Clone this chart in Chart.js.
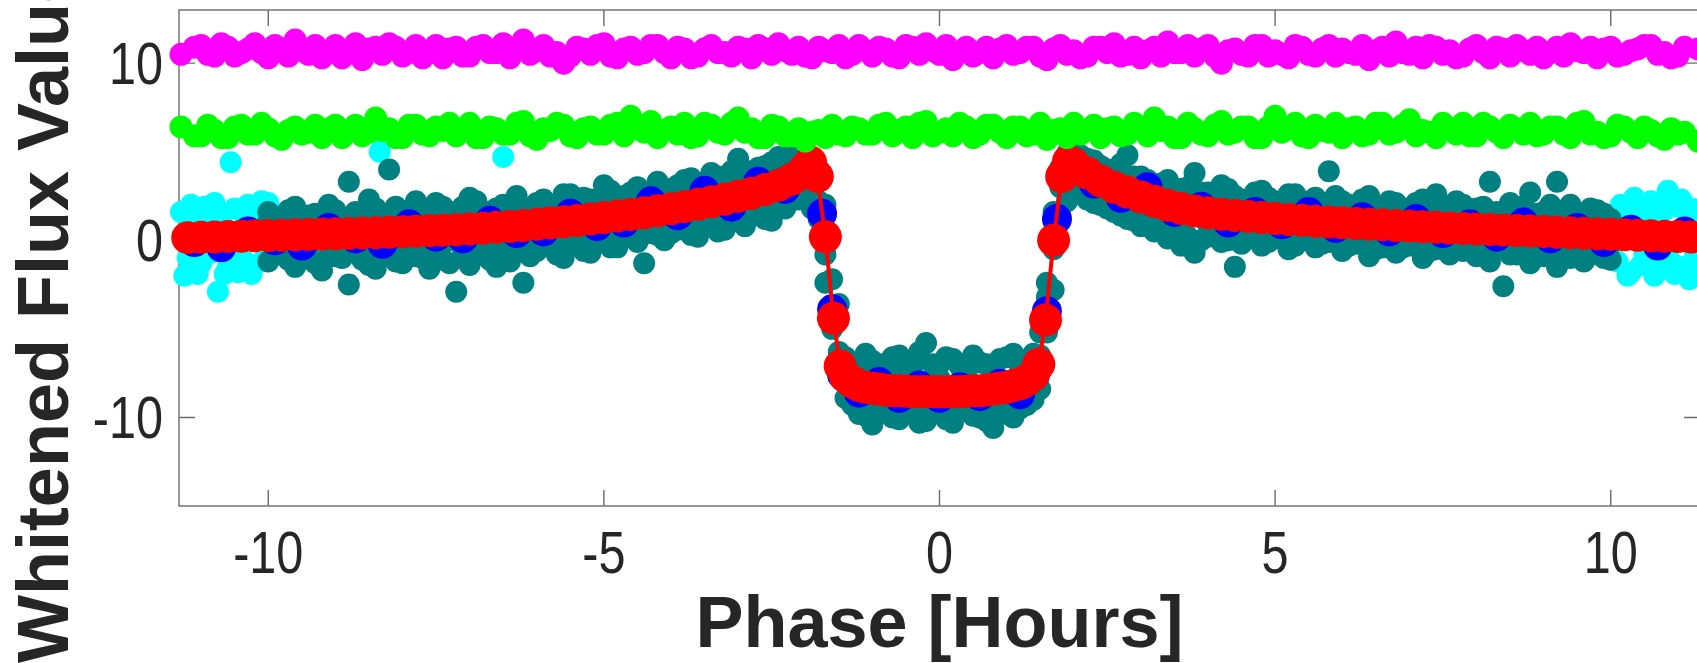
<!DOCTYPE html>
<html><head><meta charset="utf-8">
<script src="https://cdn.jsdelivr.net/npm/chart.js@4.4.0/dist/chart.umd.min.js"></script>
<style>
html,body{margin:0;padding:0;overflow:hidden;background:#fff;width:1697px;height:663px}
#wrap{position:absolute;left:0;top:0;width:1706px;height:663px}
</style></head><body><div id="wrap"><canvas id="c"></canvas></div>
<script>
const xTicks = [-10, -5, 0, 5, 10];
const xTickLabels = ['-10', '-5', '0', '5', '10'];
const yTicks = [-10, 0, 10];
const yTickLabels = ['-10', '0', '10'];
const xLabel = 'Phase [Hours]';
const yLabel = 'Whitened Flux Value';

const phaseGrid = [
 -11.3,-11.0,-10.8,-10.6,-10.4,-10.2,-10.0,-9.8,-9.6,-9.4,
 -9.2,-9.0,-8.8,-8.6,-8.4,-8.2,-8.0,-7.8,-7.6,-7.4,
 -7.2,-7.0,-6.8,-6.6,-6.4,-6.2,-6.0,-5.8,-5.6,-5.4,
 -5.2,-5.0,-4.8,-4.6,-4.4,-4.2,-4.0,-3.8,-3.6,-3.4,
 -3.2,-3.0,-2.8,-2.6,-2.4,-2.2,-2.0,-1.8,-1.6,-1.4,
 -1.2,-1.0,-0.8,-0.6,-0.4,-0.2,0.0,0.2,0.4,0.6,
 0.8,1.0,1.2,1.4,1.6,1.8,2.0,2.2,2.4,2.6,
 2.8,3.0,3.2,3.4,3.6,3.8,4.0,4.2,4.4,4.6,
 4.8,5.0,5.2,5.4,5.6,5.8,6.0,6.2,6.4,6.6,
 6.8,7.0,7.2,7.4,7.6,7.8,8.0,8.2,8.4,8.6,
 8.8,9.0,9.2,9.4,9.6,9.8,10.0,10.2,10.4,10.6,
 10.8,11.0,11.3];

const phaseGridB = [
 -11.1,-10.9,-10.7,-10.5,-10.3,-10.1,-9.9,-9.7,-9.5,-9.3,
 -9.1,-8.9,-8.7,-8.5,-8.3,-8.1,-7.9,-7.7,-7.5,-7.3,
 -7.1,-6.9,-6.7,-6.5,-6.3,-6.1,-5.9,-5.7,-5.5,-5.3,
 -5.1,-4.9,-4.7,-4.5,-4.3,-4.1,-3.9,-3.7,-3.5,-3.3,
 -3.1,-2.9,-2.7,-2.5,-2.3,-2.1,-1.9,-1.7,-1.5,-1.3,
 -1.1,-0.9,-0.7,-0.5,-0.3,-0.1,0.1,0.3,0.5,0.7,
 0.9,1.1,1.3,1.5,1.7,1.9,2.1,2.3,2.5,2.7,
 2.9,3.1,3.3,3.5,3.7,3.9,4.1,4.3,4.5,4.7,
 4.9,5.1,5.3,5.5,5.7,5.9,6.1,6.3,6.5,6.7,
 6.9,7.1,7.3,7.5,7.7,7.9,8.1,8.3,8.5,8.7,
 8.9,9.1,9.3,9.5,9.7,9.9,10.1,10.3,10.5,10.7,
 10.9,11.1];

const magentaFlux = [
 10.5,11.0,10.4,10.9,10.6,11.1,10.3,10.8,11.3,10.5,
 10.3,11.0,10.7,10.2,10.9,11.1,10.4,11.0,10.6,10.3,
 10.9,10.4,11.0,10.6,10.3,11.3,10.7,10.4,10.0,10.9,
 10.5,11.1,10.3,10.9,10.6,11.0,10.3,10.8,10.4,11.0,
 10.6,10.9,10.3,10.8,11.1,10.5,10.4,10.9,10.6,10.3,
 11.0,10.4,10.8,10.3,10.9,11.1,10.5,10.2,10.9,10.6,
 10.3,11.0,10.6,10.9,10.2,11.0,10.7,10.4,10.9,11.1,
 10.5,10.3,10.9,11.2,10.6,10.4,11.0,10.0,10.8,10.4,
 11.0,10.7,10.3,10.9,10.4,11.0,10.8,10.5,10.2,10.9,
 11.2,10.5,10.3,10.9,10.7,10.4,11.0,10.3,10.8,11.0,
 10.5,10.3,10.9,11.1,10.6,10.3,10.9,10.5,10.8,11.0,
 10.6,10.4,10.8];
const magentaFlux2 = [
 10.9,10.5,11.1,10.4,10.8,10.6,11.0,10.4,10.7,11.0,
 10.6,10.3,11.1,10.8,10.5,10.9,10.6,10.3,11.0,10.8,
 10.4,10.9,10.6,11.1,10.8,10.5,11.0,10.6,10.4,10.8,
 11.0,10.4,10.8,10.5,11.0,10.6,10.9,10.3,10.8,10.6,
 10.4,10.8,11.0,10.5,10.7,10.9,10.3,10.7,11.0,10.5,
 10.7,10.9,10.4,11.0,10.5,10.7,11.0,10.6,10.4,10.9,
 10.8,10.5,10.9,10.4,10.8,10.5,10.3,10.9,10.6,10.4,
 10.9,10.7,10.4,10.6,11.0,10.8,10.4,10.7,10.5,11.0,
 10.4,10.5,11.0,10.5,10.8,10.4,10.6,11.0,10.7,10.4,
 10.6,10.9,11.0,10.5,10.3,10.8,10.6,10.9,10.4,10.7,
 10.9,10.6,10.4,10.7,10.9,10.8,10.4,10.7,11.0,10.5,
 10.3,10.9];

const greenFlux = [
 6.4,5.9,6.2,5.8,6.5,6.0,6.3,5.7,6.4,6.1,
 5.8,6.5,6.2,5.9,6.9,6.3,5.8,6.5,5.9,6.2,
 5.9,6.6,5.8,6.3,6.0,6.7,5.7,6.2,6.5,5.8,
 6.4,6.0,6.6,7.0,6.1,5.8,6.4,6.6,5.9,6.5,
 6.0,6.9,6.3,5.8,6.4,5.9,5.6,6.2,6.5,5.9,
 6.3,6.0,6.6,6.2,5.8,6.7,6.1,5.9,6.4,6.0,
 6.5,5.8,6.4,6.0,5.7,6.3,6.6,6.2,5.8,6.4,
 6.0,6.3,6.9,6.4,5.8,6.3,5.9,6.7,6.1,6.4,
 5.8,7.0,6.3,5.9,6.5,6.1,5.8,6.4,6.0,6.6,
 6.1,6.8,6.2,5.8,6.3,6.6,5.9,6.4,5.8,6.3,
 6.6,6.0,6.4,5.8,6.7,6.1,5.9,6.4,5.8,6.2,
 5.7,6.0,5.6];
const greenFlux2 = [
 5.9,6.5,5.8,6.4,6.0,6.6,5.9,6.2,6.0,6.5,
 6.3,5.8,6.5,6.1,6.2,5.8,6.5,6.0,6.4,6.6,
 6.2,5.8,6.4,6.0,6.6,5.9,6.3,6.6,5.9,6.3,
 6.0,6.5,5.9,6.3,6.7,6.2,6.0,5.8,6.6,6.1,
 6.6,6.1,5.8,6.5,5.9,6.3,6.1,5.8,6.0,6.4,
 6.0,6.5,5.9,6.4,6.6,5.9,6.3,6.6,5.8,6.5,
 6.1,6.4,5.9,6.6,6.2,5.8,6.0,6.5,6.3,5.9,
 6.6,5.9,6.2,5.8,6.6,6.0,6.5,6.0,6.4,5.8,
 6.4,6.1,6.6,5.8,6.2,6.6,6.3,5.9,6.6,6.0,
 6.5,5.9,6.1,6.6,6.0,5.9,6.6,6.1,6.5,6.0,
 5.9,6.4,6.0,6.6,6.0,5.8,6.5,6.1,6.4,5.9,
 6.3,6.1];

const tealPhaseA = [
 -10.0,-9.8,-9.6,-9.4,-9.2,-9.0,-8.8,-8.6,-8.4,-8.2,
 -8.0,-7.8,-7.6,-7.4,-7.2,-7.0,-6.8,-6.6,-6.4,-6.2,
 -6.0,-5.8,-5.6,-5.4,-5.2,-5.0,-4.8,-4.6,-4.4,-4.2,
 -4.0,-3.8,-3.6,-3.4,-3.2,-3.0,-2.8,-2.6,-2.4,-2.2,
 -2.0,-1.8,-1.6,-1.4,-1.2,-1.0,-0.8,-0.6,-0.4,-0.2,
 0.0,0.2,0.4,0.6,0.8,1.0,1.2,1.4,1.6,1.8,
 2.0,2.2,2.4,2.6,2.8,3.0,3.2,3.4,3.6,3.8,
 4.0,4.2,4.4,4.6,4.8,5.0,5.2,5.4,5.6,5.8,
 6.0,6.2,6.4,6.6,6.8,7.0,7.2,7.4,7.6,7.8,
 8.0,8.2,8.4,8.6,8.8,9.0,9.2,9.4,9.6,9.8,
 10.0];

const tealHi = [
 1.6,1.2,1.9,1.4,1.1,1.7,3.3,1.3,1.8,4.0,
 1.5,2.2,1.4,1.9,1.6,2.4,1.3,1.8,2.0,1.5,
 2.1,1.7,2.6,2.0,2.3,3.1,2.2,2.7,2.4,3.3,
 2.9,3.4,3.1,3.8,3.3,4.6,3.9,4.2,4.7,4.9,
 4.8,4.0,-2.2,-6.6,-7.2,-6.8,-7.3,-6.5,-7.1,-5.8,
 -7.0,-6.7,-7.3,-6.9,-7.2,-6.6,-7.1,-6.4,-2.4,4.1,
 4.9,4.6,4.2,3.9,4.8,3.6,3.1,3.4,2.9,3.8,
 2.7,3.1,2.5,2.3,2.8,2.2,2.6,2.0,2.4,3.9,
 2.2,1.8,2.5,1.9,2.1,1.7,2.3,2.6,1.6,2.0,
 1.8,3.3,1.5,1.9,2.7,1.6,3.3,2.0,1.3,1.7,
 1.2];

const tealMid2 = [
 1.0,-0.5,1.2,-0.4,0.9,-0.7,1.1,-0.3,1.3,-0.5,
 1.2,-0.4,1.4,-0.2,1.3,-0.3,1.5,-0.1,1.6,0.0,
 1.8,0.1,1.9,0.3,2.1,0.4,2.2,0.6,2.4,0.8,
 2.7,0.9,2.9,1.3,3.2,1.6,3.6,2.0,4.0,2.6,
 3.2,2.2,-4.2,-7.4,-8.4,-9.2,-7.6,-9.3,-7.7,-9.1,
 -7.8,-9.2,-7.6,-9.3,-7.9,-9.0,-7.5,-8.2,-3.2,3.0,
 3.6,4.0,2.6,3.5,2.1,3.2,1.5,2.6,1.2,2.4,
 0.9,2.3,0.7,2.1,0.5,2.0,0.4,1.9,0.3,1.8,
 0.2,1.7,0.1,1.6,0.0,1.5,-0.1,1.4,-0.2,1.3,
 -0.3,1.3,-0.4,1.2,-0.4,1.1,-0.5,1.0,-0.6,0.9,
 -0.2];

const tealLo = [
 -1.2,-0.8,-1.5,-1.0,-1.7,-0.9,-2.5,-1.1,-1.6,-0.7,
 -1.3,-0.9,-1.6,-1.1,-2.9,-1.4,-0.8,-1.5,-1.2,-2.4,
 -0.6,-0.3,-1.0,-0.2,-0.7,0.0,-0.4,0.2,-1.3,0.3,
 0.4,0.7,0.2,1.0,0.6,1.3,1.7,1.2,2.0,2.4,
 2.6,1.2,-5.0,-8.9,-9.8,-10.4,-9.6,-10.1,-9.5,-10.2,
 -9.7,-10.3,-9.4,-10.0,-10.6,-9.8,-9.5,-9.0,-5.2,1.4,
 2.8,2.3,2.0,1.6,1.2,0.8,0.5,0.1,-0.3,-0.7,
 0.2,-0.1,-1.5,0.3,-0.3,0.1,-0.5,0.2,-0.4,-0.1,
 -0.6,-0.2,-0.9,-0.4,-0.7,-0.3,-1.0,-0.5,-0.8,-0.6,
 -0.9,-1.2,-2.6,-0.8,-1.3,-0.9,-1.5,-1.0,-1.2,-0.8,
 -1.1];

const tealPhaseB = [
 -9.9,-9.7,-9.5,-9.3,-9.1,-8.9,-8.7,-8.5,-8.3,-8.1,
 -7.9,-7.7,-7.5,-7.3,-7.1,-6.9,-6.7,-6.5,-6.3,-6.1,
 -5.9,-5.7,-5.5,-5.3,-5.1,-4.9,-4.7,-4.5,-4.3,-4.1,
 -3.9,-3.7,-3.5,-3.3,-3.1,-2.9,-2.7,-2.5,-2.3,-2.1,
 -1.9,-1.7,-1.5,-1.3,-1.1,-0.9,-0.7,-0.5,-0.3,-0.1,
 0.1,0.3,0.5,0.7,0.9,1.1,1.3,1.5,1.7,1.9,
 2.1,2.3,2.5,2.7,2.9,3.1,3.3,3.5,3.7,3.9,
 4.1,4.3,4.5,4.7,4.9,5.1,5.3,5.5,5.7,5.9,
 6.1,6.3,6.5,6.7,6.9,7.1,7.3,7.5,7.7,7.9,
 8.1,8.3,8.5,8.7,8.9,9.1,9.3,9.5,9.7,9.9];

const tealMid = [
 0.6,-0.2,0.9,0.1,0.5,-0.3,1.0,0.2,0.7,-0.1,
 1.1,0.3,0.8,0.0,1.2,0.4,0.9,0.2,1.3,0.6,
 1.4,0.5,1.7,0.8,1.5,1.0,1.9,1.1,2.0,1.3,
 2.4,1.5,2.6,1.9,3.2,2.3,3.5,2.7,3.9,3.7,
 3.4,-0.8,-6.3,-8.0,-8.9,-8.1,-9.0,-7.9,-8.8,-8.2,
 -8.9,-8.0,-9.1,-8.3,-8.7,-7.9,-8.8,-6.5,-0.5,3.6,
 4.4,3.3,3.6,2.5,2.9,2.0,2.4,1.6,2.0,1.3,
 1.9,1.1,1.7,0.9,1.6,0.7,1.4,0.8,1.3,0.6,
 1.4,0.4,1.1,0.5,1.2,0.2,1.0,0.3,0.9,0.1,
 0.9,-0.1,1.0,0.2,0.7,-0.2,0.8,0.0,0.6,-0.3];

const tealHi2 = [
 1.3,1.7,1.0,1.5,2.0,1.2,1.6,2.3,1.4,1.9,
 1.7,1.3,2.1,1.5,1.9,2.2,1.6,2.0,2.5,1.8,
 2.3,2.0,2.6,2.4,2.1,2.8,2.5,3.0,2.6,2.9,
 3.1,3.5,3.0,3.6,3.9,3.5,4.1,4.4,4.0,4.6,
 4.7,2.0,-3.6,-6.9,-6.4,-7.0,-6.6,-7.2,-6.3,-7.0,
 -6.6,-7.1,-6.5,-7.0,-6.7,-6.4,-6.9,-5.2,1.6,4.9,
 4.8,4.5,4.0,4.3,3.6,3.4,3.2,2.8,3.0,2.7,
 2.5,2.9,2.3,2.7,2.4,2.1,2.6,2.2,2.0,2.5,
 2.0,2.3,1.9,2.2,1.8,2.1,1.7,2.0,2.2,1.6,
 1.9,1.6,2.1,1.8,1.5,2.0,1.7,1.4,1.8,1.5];

const tealLo2 = [
 -0.7,-1.1,-0.5,-1.3,-0.9,-1.0,-0.6,-1.4,-0.8,-1.2,
 -0.7,-1.0,-0.6,-1.3,-0.8,-0.5,-1.1,-0.7,-0.4,-0.9,
 -0.3,-0.8,-0.2,-0.6,0.1,-0.4,0.2,-0.1,0.4,0.0,
 0.6,0.3,0.9,0.5,1.2,0.8,1.4,1.1,1.8,2.3,
 1.8,-2.4,-7.7,-9.3,-9.9,-9.4,-10.0,-9.6,-10.3,-9.5,
 -10.1,-9.6,-9.9,-10.2,-9.5,-10.0,-9.3,-8.4,-2.8,2.2,
 2.6,2.1,1.8,1.4,1.1,0.9,0.6,0.4,0.2,0.0,
 0.3,0.0,-0.2,0.4,-0.1,0.2,-0.3,0.0,-0.2,0.1,
 -0.3,0.0,-0.5,-0.1,-0.4,-0.2,-0.6,-0.3,-0.5,-0.2,
 -0.6,-0.4,-0.8,-0.5,-0.9,-0.7,-0.6,-0.9,-0.8,-1.0];

const cyanPhase = [
 -11.3,-11.2,-11.1,-11.05,-10.95,-10.85,-10.75,-10.7,-10.6,-10.5,
 -10.4,-10.3,-10.2,-10.1,-10.05,-10.56,-8.34,-6.5,10.1,10.2,
 10.3,10.4,10.5,10.6,10.7,10.85,10.9,11.0,11.1,11.17,
 11.3,11.25,-11.25,-11.15,-11.0,-10.9,-10.8,-10.65,-10.45,-10.35,
 -10.25,-10.15,-10.0,10.15,10.25,10.35,10.45,10.55,10.65,10.8,
 10.95,11.05,11.2,11.28];
const cyanFlux = [
 1.6,-1.0,0.9,-1.9,1.9,-0.7,-2.9,1.2,-1.5,1.8,
 -0.9,2.0,-1.4,2.2,-1.0,4.4,5.0,4.7,-1.2,1.3,
 -1.8,1.6,-0.8,2.2,-1.6,2.8,-1.2,1.9,-1.5,-2.2,
 1.2,-0.6,-2.0,2.0,-1.3,1.5,2.1,-1.9,-1.8,1.4,
 -1.9,1.7,2.1,2.0,-2.0,2.4,-1.4,1.1,-2.0,1.7,
 -1.9,2.3,1.8,-1.6];

const binPhase = [
 -11.1,-10.7,-10.3,-9.9,-9.5,-9.1,-8.7,-8.3,-7.9,-7.5,
 -7.1,-6.7,-6.3,-5.9,-5.5,-5.1,-4.7,-4.3,-3.9,-3.5,
 -3.1,-2.7,-2.3,-1.95,-1.75,-1.6,-1.45,-1.2,-0.9,-0.6,
 -0.3,0.0,0.3,0.6,0.9,1.2,1.45,1.6,1.75,1.95,
 2.3,2.7,3.1,3.5,3.9,4.3,4.7,5.1,5.5,5.9,
 6.3,6.7,7.1,7.5,7.9,8.3,8.7,9.1,9.5,9.9,
 10.3,10.7,11.1];
const binFlux = [
 -0.1,-0.4,0.5,0.0,-0.3,0.7,0.1,-0.2,0.9,0.2,
 0.1,1.1,0.4,0.5,1.5,0.8,1.0,2.2,1.4,2.8,
 1.9,3.3,2.9,3.9,1.5,-3.9,-7.6,-8.6,-8.0,-8.9,
 -8.2,-8.9,-8.3,-8.8,-8.1,-8.7,-7.3,-4.0,1.2,4.2,
 3.2,2.4,3.0,1.6,1.9,1.0,1.6,0.9,1.6,0.7,
 1.3,0.5,1.2,0.4,0.9,0.2,1.0,0.1,0.7,-0.1,
 0.6,-0.3,0.5];

const modelPhase = [
 -11.2,-11.0,-10.8,-10.6,-10.4,-10.2,-10.0,-9.8,-9.6,-9.4,
 -9.2,-9.0,-8.8,-8.6,-8.4,-8.2,-8.0,-7.8,-7.6,-7.4,
 -7.2,-7.0,-6.8,-6.6,-6.4,-6.2,-6.0,-5.8,-5.6,-5.4,
 -5.2,-5.0,-4.8,-4.6,-4.4,-4.2,-4.0,-3.8,-3.6,-3.4,
 -3.2,-3.0,-2.8,-2.6,-2.4,-2.2,-2.0,
 -1.92,-1.82,-1.70,-1.58,-1.48,
 -1.4,-1.3,-1.2,-1.1,-1.0,-0.9,-0.8,-0.7,-0.6,-0.5,
 -0.4,-0.3,-0.2,-0.1,0.0,0.1,0.2,0.3,0.4,0.5,
 0.6,0.7,0.8,0.9,1.0,1.1,1.2,1.3,1.4,
 1.48,1.58,1.70,1.82,1.92,
 2.0,2.2,2.4,2.6,2.8,3.0,3.2,3.4,3.6,3.8,
 4.0,4.2,4.4,4.6,4.8,5.0,5.2,5.4,5.6,5.8,
 6.0,6.2,6.4,6.6,6.8,7.0,7.2,7.4,7.6,7.8,
 8.0,8.2,8.4,8.6,8.8,9.0,9.2,9.4,9.6,9.8,
 10.0,10.2,10.4,10.6,10.8,11.0,11.2];
const modelFlux = [
 0.15,0.17,0.19,0.21,0.23,0.25,0.27,0.29,0.31,0.33,
 0.35,0.37,0.39,0.41,0.43,0.45,0.48,0.51,0.54,0.56,
 0.60,0.64,0.68,0.73,0.78,0.84,0.90,0.97,1.04,1.12,
 1.20,1.28,1.37,1.46,1.56,1.67,1.78,1.90,2.03,2.17,
 2.32,2.48,2.66,2.86,3.10,3.45,4.05,
 4.4,3.6,0.2,-4.4,-7.1,
 -7.7,-8.0,-8.2,-8.3,-8.35,-8.4,-8.45,-8.5,-8.5,-8.52,
 -8.55,-8.55,-8.55,-8.55,-8.55,-8.55,-8.55,-8.55,-8.52,-8.5,
 -8.5,-8.45,-8.4,-8.35,-8.3,-8.2,-8.1,-7.9,-7.6,
 -7.0,-4.5,0.0,3.6,4.45,
 4.3,3.8,3.35,3.0,2.72,2.45,2.2,1.98,1.8,1.65,
 1.55,1.47,1.40,1.34,1.28,1.23,1.18,1.13,1.08,1.03,
 0.99,0.95,0.91,0.87,0.83,0.80,0.76,0.73,0.70,0.67,
 0.64,0.61,0.58,0.55,0.52,0.49,0.46,0.43,0.40,0.37,
 0.34,0.31,0.28,0.26,0.23,0.21,0.18];

function pts(xs, ys) { return xs.map((x, i) => ({x: x, y: ys[i]})); }

function scatterSet(label, xs, ys, color, r) {
  return {label: label, data: pts(xs, ys), pointRadius: r, pointHoverRadius: r,
    pointBackgroundColor: color, pointBorderColor: color, pointBorderWidth: 0,
    showLine: false, clip: false};
}

const axisColor = '#6b6b6b';
const textColor = '#262626';
const tickFontCss = "60px 'Liberation Sans', Arial, Helvetica, sans-serif";
const narrow = 0.81;

const framePlugin = {
  id: 'frame',
  beforeDatasetsDraw(chart) {
    const {ctx, chartArea: a, scales: {x, y}} = chart;
    ctx.save();
    ctx.strokeStyle = axisColor; ctx.lineWidth = 1.4;
    ctx.strokeRect(a.left, a.top, a.right - a.left, a.bottom - a.top);
    ctx.beginPath();
    xTicks.forEach(v => { const p = x.getPixelForValue(v);
      ctx.moveTo(p, a.bottom); ctx.lineTo(p, a.bottom - 16);
      ctx.moveTo(p, a.top); ctx.lineTo(p, a.top + 16); });
    yTicks.forEach(v => { const p = y.getPixelForValue(v);
      ctx.moveTo(a.left, p); ctx.lineTo(a.left + 16, p);
      ctx.moveTo(a.right, p); ctx.lineTo(a.right - 16, p); });
    ctx.stroke();
    ctx.restore();
  },
  afterDraw(chart) {
    const {ctx, chartArea: a, scales: {x, y}} = chart;
    ctx.save();
    ctx.fillStyle = textColor;
    ctx.font = tickFontCss;
    ctx.textBaseline = 'alphabetic';
    ctx.textAlign = 'center';
    xTicks.forEach((v, i) => {
      ctx.save(); ctx.translate(x.getPixelForValue(v), a.bottom + 67); ctx.scale(narrow, 1);
      ctx.fillText(xTickLabels[i], 0, 0); ctx.restore();
    });
    ctx.textAlign = 'right';
    yTicks.forEach((v, i) => {
      ctx.save(); ctx.translate(a.left - 16, y.getPixelForValue(v) + 21); ctx.scale(narrow, 1);
      ctx.fillText(yTickLabels[i], 0, 0); ctx.restore();
    });
    ctx.font = "bold 72px 'Liberation Sans', Arial, Helvetica, sans-serif";
    ctx.textAlign = 'center';
    ctx.fillText(xLabel, (a.left + a.right) / 2, 647);
    ctx.translate(68, 313); ctx.rotate(-Math.PI / 2);
    ctx.fillText(yLabel, 0, 0);
    ctx.restore();
  }
};

new Chart(document.getElementById('c'), {
  type: 'scatter',
  data: {datasets: [
    scatterSet('magenta', phaseGrid, magentaFlux, '#ff00ff', 11.5),
    scatterSet('magenta2', phaseGridB, magentaFlux2, '#ff00ff', 11.5),
    scatterSet('green', phaseGrid, greenFlux, '#00ff00', 11.5),
    scatterSet('green2', phaseGridB, greenFlux2, '#00ff00', 11.5),
    {label: 'model', data: pts(modelPhase, modelFlux), showLine: true, borderColor: '#ff0000',
     borderWidth: 4, tension: 0, pointRadius: 16.5, pointHoverRadius: 16.5,
     pointBackgroundColor: '#ff0000', pointBorderColor: '#ff0000', pointBorderWidth: 0, clip: false},
    scatterSet('binned', binPhase, binFlux, '#0000ff', 15),
    scatterSet('dataHi', tealPhaseA, tealHi, '#008080', 11),
    scatterSet('dataHi2', tealPhaseB, tealHi2, '#008080', 11),
    scatterSet('dataMid', tealPhaseB, tealMid, '#008080', 11),
    scatterSet('dataMid2', tealPhaseA, tealMid2, '#008080', 11),
    scatterSet('dataLo', tealPhaseA, tealLo, '#008080', 11),
    scatterSet('dataLo2', tealPhaseB, tealLo2, '#008080', 11),
    scatterSet('raw', cyanPhase, cyanFlux, '#00ffff', 11)
  ]},
  options: {
    responsive: true, maintainAspectRatio: false, animation: false,
    events: [],
    layout: {autoPadding: false, padding: {left: 0, right: 6, top: 10, bottom: 0}},
    plugins: {legend: {display: false}, tooltip: {enabled: false}},
    scales: {
      x: {type: 'linear', min: -11.33, max: 11.33,
        afterBuildTicks: s => { s.ticks = xTicks.map(v => ({value: v})); },
        afterFit: s => { s.height = 157; s.paddingLeft = 0; s.paddingRight = 0; },
        grid: {display: false}, border: {display: false},
        ticks: {display: false}},
      y: {type: 'linear', min: -15, max: 13,
        afterBuildTicks: s => { s.ticks = yTicks.map(v => ({value: v})); },
        afterFit: s => { s.width = 179; s.paddingTop = 0; s.paddingBottom = 0; },
        grid: {display: false}, border: {display: false},
        ticks: {display: false}}
    }
  },
  plugins: [framePlugin]
});
</script></body></html>
